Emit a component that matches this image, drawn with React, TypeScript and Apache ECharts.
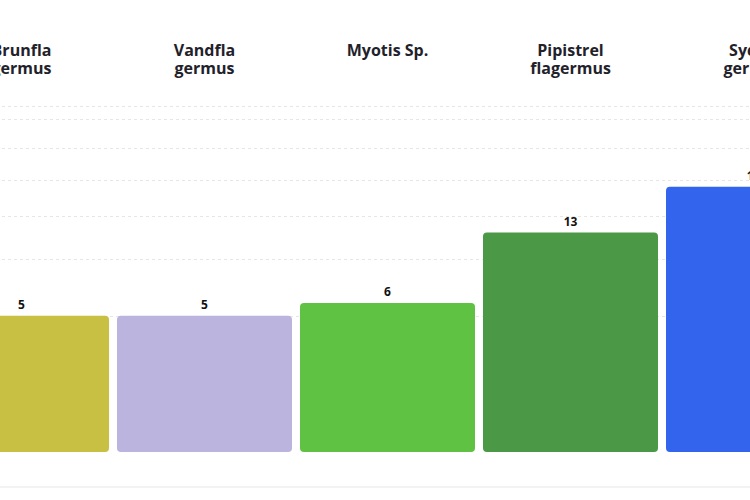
import React, { useEffect, useRef } from "react";
import * as echarts from "echarts";

const categories = ["Brunfla\ngermus", "Vandfla\ngermus", "Myotis Sp.", "Pipistrel\nflagermus", "Sydfla\ngermus"];
const values = [5, 5, 6, 13, 19];
const barColors = ["#c8c043", "#bab4de", "#5fc242", "#4b9847", "#3264ee"];
const gridValues = [5, 10, 15, 20, 25, 30, 32.3];
const yMax = 32.3;

const OFFSET = 70;
const CHART_W = 915;

export default function App() {
  const ref = useRef<HTMLDivElement>(null);
  useEffect(() => {
    if (!ref.current) return;
    const chart = echarts.init(ref.current, undefined, { renderer: "svg" });
    const font = "'Open Sans', 'Noto Sans', sans-serif";
    chart.setOption({
      animation: false,
      backgroundColor: "#ffffff",
      grid: { left: 0, right: 0, top: 106, bottom: 48 },
      xAxis: {
        type: "category",
        position: "top",
        data: categories,
        axisLine: { show: false },
        axisTick: { show: false },
        splitLine: { show: false },
        axisLabel: {
          interval: 0,
          margin: 65,
          verticalAlign: "top",
          fontFamily: font,
          fontWeight: "bold",
          fontSize: 16,
          lineHeight: 18,
          color: "#1f222a",
        },
      },
      yAxis: {
        type: "value",
        min: 0,
        max: Math.sqrt(yMax),
        show: false,
        splitLine: { show: false },
      },
      series: [
        {
          type: "custom",
          z: 1,
          silent: true,
          data: gridValues.map((v) => [0, v]),
          renderItem: (params: any, api: any) => {
            const y = api.coord([0, Math.sqrt(api.value(1))])[1];
            return {
              type: "line",
              shape: { x1: 0, y1: Math.round(y) + 0.5, x2: CHART_W, y2: Math.round(y) + 0.5 },
              style: { stroke: "#e6e6e6", lineWidth: 1, lineDash: [3, 3] },
            };
          },
        },
        {
          type: "bar",
          z: 2,
          barWidth: 175,
          data: values.map((v, i) => ({
            value: Math.sqrt(v),
            itemStyle: { color: barColors[i], borderRadius: 4 },
          })),
          label: {
            show: true,
            position: "top",
            distance: 5,
            formatter: (p: any) => String(values[p.dataIndex]),
            fontFamily: font,
            fontWeight: "bold",
            fontSize: 12,
            color: "#111111",
          },
        },
      ],
      graphic: [
        {
          type: "rect",
          shape: { x: 0, y: 486, width: CHART_W, height: 2 },
          style: { fill: "#f3f3f3" },
        },
      ],
    });
    return () => chart.dispose();
  }, []);
  return (
    <div
      style={{
        position: "fixed",
        left: 0,
        top: 0,
        width: 750,
        height: 500,
        overflow: "hidden",
        background: "#fff",
      }}
    >
      <div
        ref={ref}
        style={{ position: "absolute", left: -OFFSET, top: 0, width: CHART_W, height: 500 }}
      />
    </div>
  );
}
